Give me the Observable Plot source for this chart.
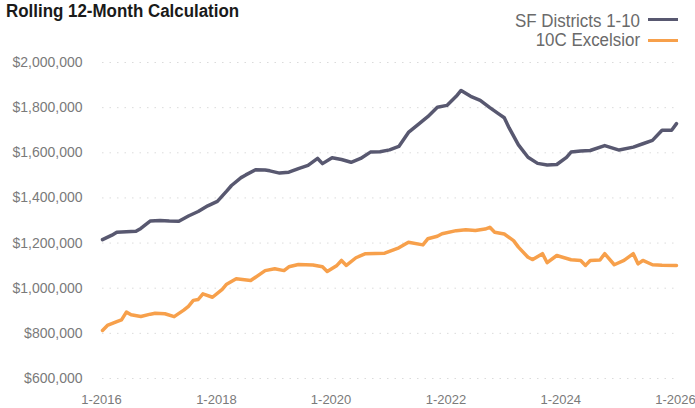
<!DOCTYPE html>
<html>
<head>
<meta charset="utf-8">
<script src="https://cdn.jsdelivr.net/npm/d3@7"></script>
<script src="https://cdn.jsdelivr.net/npm/@observablehq/plot@0.6"></script>
<style>
  html, body { margin: 0; padding: 0; background: #fff; }
  #wrap { position: relative; width: 695px; height: 408px; overflow: hidden; font-family: "Liberation Sans", Arial, sans-serif; }
  .title { position: absolute; left: 6px; top: 2px; font-size: 18px; line-height: 18px; font-weight: bold; color: #1a1a1a; transform: scaleX(0.94); transform-origin: left top; white-space: nowrap; }
  .leg { position: absolute; right: 55px; font-size: 18px; line-height: 18px; color: #6a6a6a; transform: scaleX(0.94); transform-origin: right top; white-space: nowrap; }
  .sw { position: absolute; left: 648px; width: 30px; height: 3px; }
</style>
</head>
<body>
<div id="wrap">
  <div id="chart"></div>
  <div class="title">Rolling 12-Month Calculation</div>
  <div class="leg" style="top:12px">SF Districts 1-10</div>
  <div class="leg" style="top:31px">10C Excelsior</div>
  <div class="sw" style="top:18px;background:#585870"></div>
  <div class="sw" style="top:39px;background:#f7a04b"></div>
</div>
<script>
// Series names
const seriesNames = ["SF Districts 1-10", "10C Excelsior"];

// SF Districts 1-10: month index from 1-2016, value
const sfMonths = [0,2,3,5,7,8,10,12,14,16,18,20,22,24,26,27,29,30,32,34,35,37,39,41,43,45,46,48,50,52,54,56,58,60,62,64,66,68,70,72,74,75,77,79,81,83,84,85,87,89,91,93,95,97,98,100,102,105,108,111,113,115,117,119,120];
const sfValues = [1215000,1235000,1248000,1250000,1252000,1265000,1298000,1300000,1298000,1297000,1320000,1340000,1365000,1385000,1430000,1455000,1490000,1502000,1525000,1524000,1520000,1510000,1514000,1530000,1544000,1575000,1552000,1578000,1570000,1558000,1575000,1603000,1605000,1613000,1628000,1690000,1725000,1760000,1802000,1810000,1850000,1876000,1850000,1832000,1800000,1770000,1755000,1710000,1635000,1580000,1553000,1546000,1548000,1580000,1603000,1608000,1610000,1632000,1612000,1625000,1640000,1655000,1700000,1700000,1729000];

// 10C Excelsior
const exMonths = [0,1,3,4,5,6,8,10,11,13,15,17,18,19,20,21,23,25,26,28,31,34,36,38,39,41,44,46,47,49,50,51,53,55,59,62,64,67,68,70,71,74,76,78,80,81,82,84,86,87,89,90,92,93,95,98,100,101,102,104,105,107,109,111,112,113,115,117,120];
const exValues = [813000,835000,852000,860000,894000,882000,875000,885000,889000,887000,874000,903000,920000,946000,950000,975000,960000,995000,1018000,1042000,1034000,1078000,1086000,1078000,1095000,1105000,1103000,1095000,1074000,1101000,1123000,1101000,1135000,1153000,1155000,1179000,1204000,1192000,1219000,1230000,1241000,1255000,1259000,1256000,1262000,1270000,1248000,1240000,1211000,1182000,1137000,1127000,1153000,1113000,1145000,1126000,1123000,1101000,1123000,1125000,1153000,1104000,1123000,1153000,1108000,1123000,1104000,1102000,1101000];

// Tick values
const yTicks = [600000, 800000, 1000000, 1200000, 1400000, 1600000, 1800000, 2000000];
const xTickYears = [2016, 2018, 2020, 2022, 2024, 2026];

const toDate = m => new Date(Date.UTC(2016 + Math.floor(m / 12), m % 12, 1));
const sfData = sfMonths.map((m, i) => ({date: toDate(m), value: sfValues[i], series: seriesNames[0]}));
const exData = exMonths.map((m, i) => ({date: toDate(m), value: exValues[i], series: seriesNames[1]}));
const xTicks = xTickYears.map(y => new Date(Date.UTC(y, 0, 1)));

const chart = Plot.plot({
  width: 695,
  height: 408,
  marginTop: 62,
  marginBottom: 30,
  marginLeft: 102,
  marginRight: 19,
  style: {fontFamily: '"Liberation Sans", Arial, sans-serif', fontSize: "14px", color: "#7a7a7a", background: "transparent"},
  x: {type: "utc", domain: [toDate(0), toDate(120)]},
  y: {domain: [600000, 2000000]},
  marks: [
    Plot.gridY(yTicks, {stroke: "#999", strokeOpacity: 0.35, strokeDasharray: "1.5,6"}),
    Plot.axisY(yTicks, {tickSize: 0, tickPadding: 20, tickFormat: d => "$" + d3.format(",")(d), label: null}),
    Plot.axisX(xTicks, {tickSize: 0, tickPadding: 16, fontSize: 13, dx: -1, tickFormat: d => "1-" + d.getUTCFullYear(), label: null}),
    Plot.line(sfData, {x: "date", y: "value", stroke: "#585870", strokeWidth: 3.5}),
    Plot.line(exData, {x: "date", y: "value", stroke: "#f7a04b", strokeWidth: 3.5})
  ]
});
document.getElementById("chart").appendChild(chart);
</script>
</body>
</html>
